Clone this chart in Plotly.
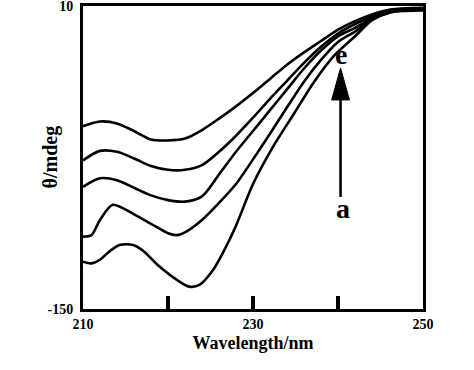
import plotly.graph_objects as go

# Wavelength (nm) and ellipticity (mdeg) for the five spectra a..e
x_a = [210, 211, 212, 213, 214.3, 215.9, 217, 219, 221, 222.5, 223.7, 225.3, 226.5, 228, 230, 232.4, 234.8, 237.2, 239.6, 242, 244, 246, 248, 250]
y_a = [-125, -125.9, -124, -120, -116.2, -116.2, -119, -127.6, -134.5, -138.2, -137.3, -129.4, -120, -106, -84, -64, -47, -30, -16, -6, 2.5, 6.5, 7.4, 7.6]

x_b = [210, 211, 212, 213.5, 216, 218, 220, 221, 222, 224, 226, 228, 230, 232, 234, 236, 238, 240, 242, 244, 246, 248, 250]
y_b = [-111.8, -111, -103, -95, -100, -105, -110, -111, -109.5, -103, -94, -84, -71, -57.5, -43.5, -30, -18.5, -9, -3.5, 3, 6.5, 7.8, 8]

x_c = [210, 212, 214, 216, 218, 220, 222, 224, 226, 228, 230, 232, 234, 236, 238, 240, 242, 244, 246, 248, 250]
y_c = [-85.5, -81, -82, -86, -90, -92.5, -93.3, -90.5, -79, -67, -56, -45, -34, -23, -13.5, -6, -1.5, 3.5, 6.8, 8.2, 8.4]

x_d = [210, 212, 214, 216, 218, 220, 222, 224, 226, 228, 230, 232, 234, 236, 238, 240, 242, 244, 246, 248, 250]
y_d = [-71.5, -66.5, -67, -70.5, -74.5, -76.5, -76.5, -74, -67, -58.5, -49, -39, -29.5, -20, -11.5, -4.5, 0.5, 4.5, 7.5, 8.5, 8.7]

x_e = [210, 212, 214, 216, 218, 220, 222, 224, 226, 228, 230, 232, 234, 236, 238, 240, 242, 244, 246, 248, 250]
y_e = [-53.5, -51, -52, -56, -60.5, -61, -60, -55.5, -49.5, -43, -36, -28.5, -21, -14.5, -8.5, -2.5, 2, 5.5, 8, 8.8, 9]

series = [(x_a, y_a), (x_b, y_b), (x_c, y_c), (x_d, y_d), (x_e, y_e)]

x_ticks = [210, 220, 230, 240, 250]
x_tick_text = ["<b>210</b>", "", "<b>230</b>", "", "<b>250</b>"]
y_ticks = [-150, 10]
y_tick_text = ["<b>-150</b>", "<b>10</b>"]

# arrow a -> e (data units)
arrow_x = 240.3
arrow_y_start = -90.8
arrow_head_base = -39.6
arrow_head_tip = -22.7
arrow_half_width = 1.05
label_e = (240.4, -15.5, "e")
label_a = (240.6, -97, "a")

FONT = "Liberation Serif, Times New Roman, serif"

fig = go.Figure()
for xs, ys in series:
    fig.add_trace(go.Scatter(x=xs, y=ys, mode="lines",
                             line=dict(color="black", width=2.6, shape="spline", smoothing=0.8),
                             showlegend=False, hoverinfo="skip"))

fig.add_shape(type="line", xref="x", yref="y",
              x0=arrow_x, x1=arrow_x, y0=arrow_y_start, y1=arrow_head_base,
              line=dict(color="black", width=2.6))
fig.add_shape(type="path", xref="x", yref="y",
              path="M %f,%f L %f,%f L %f,%f Z" % (arrow_x - arrow_half_width, arrow_head_base,
                                                  arrow_x + arrow_half_width, arrow_head_base,
                                                  arrow_x, arrow_head_tip),
              fillcolor="black", line=dict(color="black", width=1))
for lx, ly, lt in (label_e, label_a):
    fig.add_annotation(x=lx, y=ly, xref="x", yref="y", text="<b>%s</b>" % lt,
                       showarrow=False, font=dict(family=FONT, size=28, color="black"))

# y-axis title placed as rotated text left of the axis
fig.add_annotation(x=-0.097, y=0.5, xref="paper", yref="paper", text="<b>θ/mdeg</b>",
                   textangle=-90, showarrow=False, xanchor="center", yanchor="middle",
                   font=dict(family=FONT, size=20, color="black"))

fig.update_xaxes(range=[210, 250], tickvals=x_ticks, ticktext=x_tick_text,
                 ticks="inside", ticklen=13, tickwidth=3.5, tickcolor="black",
                 showline=True, linewidth=3, linecolor="black", mirror=True,
                 showgrid=False, zeroline=False, automargin=False, ticklabeloverflow="allow",
                 tickfont=dict(family=FONT, size=14, color="black"),
                 title=dict(text="<b>Wavelength/nm</b>", font=dict(family=FONT, size=18, color="black"), standoff=6))
fig.update_yaxes(range=[-150, 10], tickvals=y_ticks, ticktext=y_tick_text,
                 ticks="", showline=True, linewidth=3, linecolor="black", mirror=True,
                 showgrid=False, zeroline=False, automargin=False, ticklabeloverflow="allow",
                 ticklabelstandoff=4,
                 tickfont=dict(family=FONT, size=14, color="black"))

fig.update_layout(width=474, height=370, margin=dict(l=83, r=51, t=6, b=61),
                  plot_bgcolor="white", paper_bgcolor="white",
                  font=dict(family=FONT, color="black"))

fig.write_html("out.html", config={"displayModeBar": False},
               post_script="document.body.style.margin='0';document.body.style.overflow='hidden';")
